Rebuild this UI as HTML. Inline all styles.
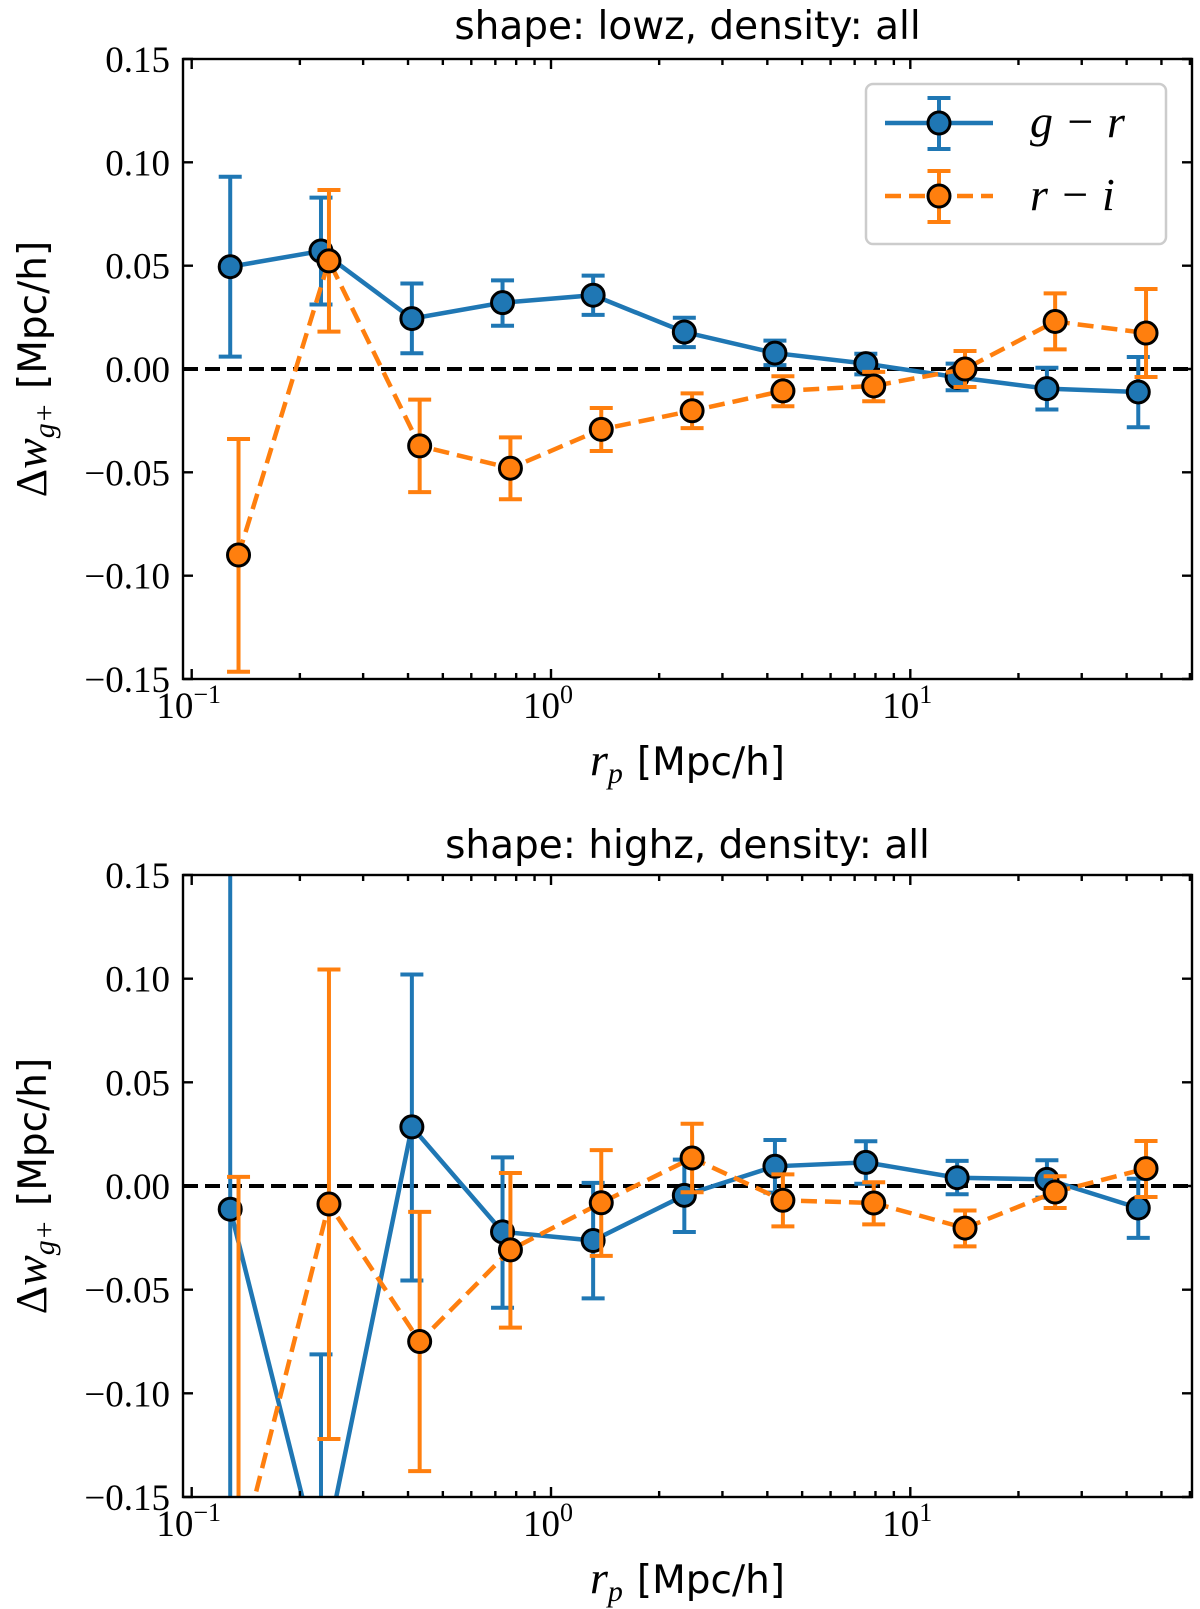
<!DOCTYPE html>
<html><head><meta charset="utf-8"><style>
html,body{margin:0;padding:0;background:#fff;overflow:hidden;width:1200px;height:1609px}
svg{display:block}
.tk{font-family:"Liberation Serif",serif;font-size:37px;fill:#000}
.tt{font-family:"DejaVu Sans","Liberation Sans",sans-serif;font-size:39px;fill:#000}
</style></head><body>
<svg id="fig" width="1200" height="1609" viewBox="0 0 1200 1609" xmlns="http://www.w3.org/2000/svg"></svg>
<script>
// ---- data ----
const xBlue = [0.128, 0.229, 0.410, 0.733, 1.31, 2.35, 4.20, 7.52, 13.5, 24.0, 43.1];
const xOrange = [0.135, 0.241, 0.431, 0.771, 1.38, 2.47, 4.42, 7.91, 14.2, 25.3, 45.3];
// top panel (lowz)
const lowzGR = [0.0495, 0.0571, 0.0244, 0.0321, 0.0357, 0.0179, 0.0077, 0.0026, -0.0040, -0.0095, -0.0111];
const lowzGRhi = [0.093, 0.0829, 0.0414, 0.0429, 0.0452, 0.0248, 0.0137, 0.0074, 0.0026, 0.0006, 0.0058];
const lowzGRlo = [0.006, 0.0312, 0.0076, 0.0209, 0.0262, 0.0106, 0.0019, -0.0026, -0.0103, -0.0196, -0.0282];
const lowzRI = [-0.090, 0.0523, -0.0372, -0.048, -0.0292, -0.0202, -0.0106, -0.0082, 0.0000, 0.0230, 0.0174];
const lowzRIhi = [-0.0339, 0.0866, -0.0148, -0.0331, -0.0189, -0.0118, -0.0035, -0.0014, 0.0087, 0.0366, 0.0387];
const lowzRIlo = [-0.1465, 0.0181, -0.0596, -0.063, -0.0397, -0.0286, -0.0180, -0.0156, -0.0087, 0.0095, -0.0039];
// bottom panel (highz)
const highzGR = [-0.0112, -0.186, 0.0285, -0.0221, -0.0263, -0.0045, 0.0095, 0.0114, 0.0040, 0.0032, -0.0106];
const highzGRhi = [0.25, -0.0812, 0.102, 0.0138, 0.0015, 0.0127, 0.0222, 0.0216, 0.0121, 0.0124, 0.0035];
const highzGRlo = [-0.30, -0.29, -0.0456, -0.0587, -0.0542, -0.0222, -0.0032, 0.0011, -0.0040, -0.0056, -0.0250];
const highzRI = [-0.181, -0.0087, -0.075, -0.0308, -0.0081, 0.0135, -0.0069, -0.0082, -0.0203, -0.0029, 0.0084];
const highzRIhi = [0.0044, 0.1044, -0.0125, 0.0063, 0.0173, 0.0300, 0.0056, 0.0018, -0.0118, 0.0047, 0.0217];
const highzRIlo = [-0.35, -0.122, -0.1375, -0.0683, -0.0337, -0.0030, -0.0195, -0.0185, -0.0291, -0.0106, -0.0053];
const yTicks = [0.15, 0.10, 0.05, 0.00, -0.05, -0.10, -0.15];
const yTickLabels = ["0.15", "0.10", "0.05", "0.00", "\u22120.05", "\u22120.10", "\u22120.15"];
const xMajor = [-1, 0, 1];

const NS = "http://www.w3.org/2000/svg";
const svg = document.getElementById('fig');
const BLUE = "#1f77b4", ORANGE = "#ff7f0e";
function mk(tag, attrs, parent) {
  const e = document.createElementNS(NS, tag);
  for (const k in attrs) e.setAttribute(k, attrs[k]);
  (parent || svg).appendChild(e);
  return e;
}
const L = 183, R = 1192;
const X0 = 191.7, DEC = 359.3;
function xs(v) { return X0 + (Math.log10(v) + 1) * DEC; }

function panel(id, top, bot, title, titleY, gr, grHi, grLo, ri, riHi, riLo) {
  const g = mk('g', {});
  
  
  const ys = v => top + (0.15 - v) / 0.30 * (bot - top);
  const cp = mk('clipPath', { id: id + '-clip' }, g);
  mk('rect', { x: L, y: top, width: R - L, height: bot - top }, cp);
  const z = mk('line', { x1: L, x2: R, y1: ys(0), y2: ys(0), stroke: '#000', 'stroke-width': 4, 'stroke-dasharray': '15 7' }, g);
  
  
  const plot = mk('g', { 'clip-path': 'url(#' + id + '-clip)' }, g);
  function series(xv, yv, hi, lo, color, dash, name) {
    const sg = mk('g', {}, plot);
    
    
    for (let i = 0; i < xv.length; i++) {
      const x = xs(xv[i]);
      const eb = mk('path', { d: `M${x},${ys(hi[i])}V${ys(lo[i])}M${x - 11.5},${ys(hi[i])}h23M${x - 11.5},${ys(lo[i])}h23`, stroke: color, 'stroke-width': 4, fill: 'none' }, sg);
      
      
    }
    const d = xv.map((v, i) => (i ? 'L' : 'M') + xs(v) + ',' + ys(yv[i])).join('');
    const ln = mk('path', { d: d, stroke: color, 'stroke-width': 4.5, fill: 'none' }, sg);
    if (dash) ln.setAttribute('stroke-dasharray', '16 8');
    
    
    for (let i = 0; i < xv.length; i++) {
      const c = mk('circle', { cx: xs(xv[i]), cy: ys(yv[i]), r: 11, fill: color, stroke: '#000', 'stroke-width': 3 }, sg);
      
      
    }
  }
  series(xBlue, gr, grHi, grLo, BLUE, false, 'g-r');
  series(xOrange, ri, riHi, riLo, ORANGE, true, 'r-i');
  const fr = mk('rect', { x: L, y: top, width: R - L, height: bot - top, fill: 'none', stroke: '#000', 'stroke-width': 2.4 }, g);
  
  
  let tp = '';
  yTicks.forEach(v => { const y = ys(v); tp += `M${L},${y}h10M${R},${y}h-10`; });
  for (let d = -1; d <= 1; d++) {
    for (let m = 1; m <= 9; m++) {
      const x = X0 + (d + 1 + Math.log10(m)) * DEC;
      if (x < L || x > R) continue;
      const len = m === 1 ? 10 : 6;
      tp += `M${x},${bot}v-${len}M${x},${top}v${len}`;
    }
  }
  const t = mk('path', { d: tp, stroke: '#000', 'stroke-width': 2.4, fill: 'none' }, g);
  
  
  yTicks.forEach((v, i) => {
    const tx = mk('text', { x: 170, y: ys(v) + 13, 'text-anchor': 'end', class: 'tk' }, g);
    tx.textContent = yTickLabels[i];
    
    
  });
  xMajor.forEach(p => {
    const x = X0 + (p + 1) * DEC;
    const tx = mk('text', { x: x - 3, y: bot + 39, 'text-anchor': 'middle', class: 'tk' }, g);
    
    
    const a = mk('tspan', {}, tx); a.textContent = '10';
    const b = mk('tspan', { dy: -15, 'font-size': '26px' }, tx); b.textContent = p < 0 ? '\u2212' + (-p) : String(p);
  });
  const ti = mk('text', { x: (L + R) / 2, y: titleY, 'text-anchor': 'middle', class: 'tt' }, g);
  ti.textContent = title;
  
  
  const xl = mk('text', { x: (L + R) / 2, y: bot + 96, 'text-anchor': 'middle', class: 'tt', 'font-size': '42px' }, g);
  
  
  const r1 = mk('tspan', { 'font-family': 'Liberation Serif, serif', 'font-style': 'italic', 'font-size': '46px' }, xl); r1.textContent = 'r';
  const r2 = mk('tspan', { 'font-family': 'Liberation Serif, serif', 'font-style': 'italic', 'font-size': '30px', dy: 8 }, xl); r2.textContent = 'p';
  const r3 = mk('tspan', { dy: -8, dx: 14 }, xl); r3.textContent = '[Mpc/h]';
  const cy = (top + bot) / 2;
  const yl = mk('text', { x: 0, y: 0, transform: `translate(46,${cy}) rotate(-90)`, 'text-anchor': 'middle', class: 'tt', 'font-size': '42px' }, g);
  
  
  const s1 = mk('tspan', { 'font-family': 'Liberation Serif, serif', 'font-size': '44px' }, yl); s1.textContent = '\u0394';
  const s2 = mk('tspan', { 'font-family': 'Liberation Serif, serif', 'font-style': 'italic', 'font-size': '46px' }, yl); s2.textContent = 'w';
  const s3 = mk('tspan', { 'font-family': 'Liberation Serif, serif', 'font-style': 'italic', 'font-size': '30px', dy: 8 }, yl); s3.textContent = 'g+';
  const s4 = mk('tspan', { dy: -8, dx: 14 }, yl); s4.textContent = '[Mpc/h]';
}
panel('lowz', 59, 679, 'shape: lowz, density: all', 39, lowzGR, lowzGRhi, lowzGRlo, lowzRI, lowzRIhi, lowzRIlo);
panel('highz', 875, 1497, 'shape: highz, density: all', 858, highzGR, highzGRhi, highzGRlo, highzRI, highzRIhi, highzRIlo);

const lg = mk('g', {});


mk('rect', { x: 866, y: 84, width: 300, height: 160, rx: 7, fill: '#fff', 'fill-opacity': 0.8, stroke: '#ccc', 'stroke-width': 2.5 }, lg);
[[123, BLUE, false, 'g \u2212 r', 'legend-entry-g-r'], [196, ORANGE, true, 'r \u2212 i', 'legend-entry-r-i']].forEach(e => {
  const eg = mk('g', {}, lg);
  
  
  const y = e[0];
  const ln = mk('line', { x1: 885, x2: 993, y1: y, y2: y, stroke: e[1], 'stroke-width': 4.5 }, eg);
  if (e[2]) ln.setAttribute('stroke-dasharray', '16 8');
  mk('path', { d: `M939,${y - 25}V${y + 26}M927.5,${y - 25}h23M927.5,${y + 26}h23`, stroke: e[1], 'stroke-width': 4, fill: 'none' }, eg);
  mk('circle', { cx: 939, cy: y, r: 11, fill: e[1], stroke: '#000', 'stroke-width': 3 }, eg);
  const t = mk('text', { x: 1030, y: y + 14, 'font-family': 'Liberation Serif, serif', 'font-style': 'italic', 'font-size': '46px' }, eg);
  t.textContent = e[3];
});
</script>
</body></html>
